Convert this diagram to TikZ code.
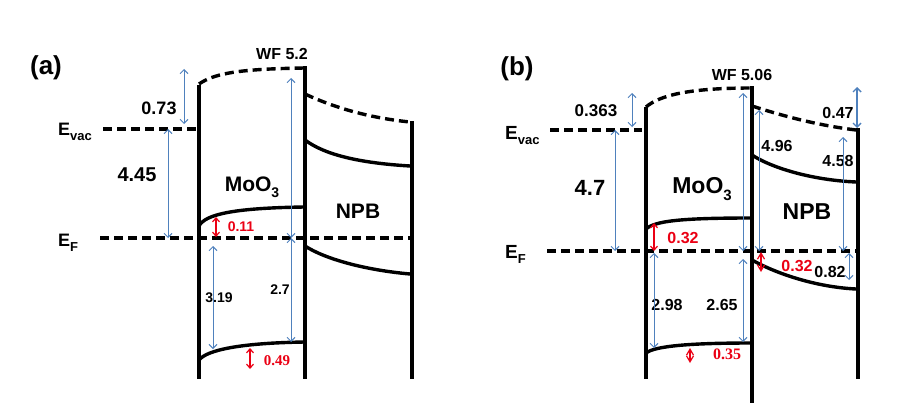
\documentclass[tikz,border=0pt]{standalone}
\usepackage{fontspec}
\setmainfont{Liberation Sans}
\newfontfamily\serifb{Liberation Serif}
\usetikzlibrary{arrows.meta}
\definecolor{blueC}{RGB}{79,129,189}
\definecolor{redC}{RGB}{235,0,20}
\begin{document}
\begin{tikzpicture}[x=1pt,y=-1pt,
  band/.style={line width=3.4pt},
  lvl/.style={line width=3.4pt, dash pattern=on 9pt off 5pt},
  barr/.style={draw=blueC, line width=1pt, {Straight Barb[length=4pt,width=8pt]}-{Straight Barb[length=4pt,width=8pt]}},
  rarr/.style={draw=redC, line width=1.2pt, {Straight Barb[length=4pt,width=7pt]}-{Straight Barb[length=4pt,width=7pt]}},
  rdia/.style={draw=redC, line width=1.2pt, {Straight Barb[length=6pt,width=7pt]}-{Straight Barb[length=6pt,width=7pt]}},
  txt/.style={inner sep=0pt, font=\bfseries\fontsize{#1}{#1}\selectfont},
  txt/.default=16,
  rtxt/.style={txt=#1, text=redC},
  rtxt/.default=15]
\useasboundingbox (0,0) rectangle (921,412);
\fill[white] (0,0) rectangle (921,412);

% ================= panel (a) =================
\draw[band] (199,85) -- (199,379);
\draw[band] (305,66.3) -- (305,379);
\draw[band] (412,121) -- (412,379);
\draw[lvl] (199,84) .. controls (215,73) and (240,69) .. (305,68);
\draw[lvl] (305,94) .. controls (335,108) and (370,118) .. (410,122);
\draw[band] (305,140) .. controls (325,155) and (360,163) .. (410,166);
\draw[band] (199,226) .. controls (205,215) and (230,208) .. (305,207);
\draw[band] (199,360) .. controls (207,350) and (240,343) .. (305,342);
\draw[band] (305,246) .. controls (325,259) and (365,270) .. (410,274);
\draw[lvl] (103,129) -- (197,129);
\draw[lvl] (100,238) -- (412,238);

\node[txt=26] (alab) at (46,68) {(a)};
\node[txt=16] (awf) at (282,54) {WF 5.2};
\node[txt=18,anchor=base west] (aevac) at (58,135) {E\raisebox{-0.3em}{\fontsize{13}{13}\selectfont vac}};
\node[txt=18,anchor=base west] (aef) at (58,246) {E\raisebox{-0.3em}{\fontsize{13}{13}\selectfont F}};
\node[txt=18] (a073) at (159,108) {0.73};
\node[txt=20] (a445) at (137,175) {4.45};
\node[txt=21] (amoo) at (252,187) {MoO\raisebox{-0.3em}{\fontsize{14}{14}\selectfont 3}};
\node[txt=21] (anpb) at (358,211) {NPB};
\node[rtxt=14] (a011) at (241,227) {0.11};
\node[txt=14] (a319) at (219,298) {3.19};
\node[txt=14] (a27) at (280,290) {2.7};
\node[rtxt=15,font=\serifb\bfseries\fontsize{15}{15}\selectfont] (a049) at (277,361) {0.49};

\coordinate (a1t) at (184,69);  \coordinate (a1b) at (184,124);
\coordinate (a2t) at (168,129); \coordinate (a2b) at (168,238);
\coordinate (a3t) at (291,78);  \coordinate (a3b) at (291,238);
\coordinate (a4t) at (291,238); \coordinate (a4b) at (291,342);
\coordinate (a5t) at (213,246); \coordinate (a5b) at (213,349);
\coordinate (a6t) at (216,217); \coordinate (a6b) at (216,237);
\coordinate (a7t) at (250,348); \coordinate (a7b) at (250,369);
\draw[barr] (a1t) -- (a1b);
\draw[barr] (a2t) -- (a2b);
\draw[barr] (a3t) -- (a3b);
\draw[barr] (a4t) -- (a4b);
\draw[barr] (a5t) -- (a5b);
\draw[rarr] (a6t) -- (a6b);
\draw[rarr] (a7t) -- (a7b);

% ================= panel (b) =================
\draw[band] (646,107) -- (646,379);
\draw[band] (752,86.3) -- (752,403);
\draw[band] (858,128) -- (858,379);
\draw[lvl] (646,107) .. controls (660,95) and (690,88) .. (752,88);
\draw[lvl] (752,106) .. controls (780,115) and (815,125) .. (856,130);
\draw[band] (752,155) .. controls (770,167) and (810,180) .. (856,182);
\draw[band] (646,229) .. controls (655,221) and (680,218) .. (752,218);
\draw[band] (646,353) .. controls (655,346) and (690,343) .. (752,343);
\draw[band] (752,260) .. controls (775,273) and (815,287) .. (856,289);
\draw[lvl] (550,130) -- (642,130);
\draw[lvl] (547,251) -- (858,251);

\node[txt=26] (blab) at (517,69) {(b)};
\node[txt=16] (bwf) at (742,75) {WF 5.06};
\node[txt=19,anchor=base west] (bevac) at (505,139) {E\raisebox{-0.3em}{\fontsize{13}{13}\selectfont vac}};
\node[txt=19,anchor=base west] (bef) at (505,258) {E\raisebox{-0.3em}{\fontsize{13}{13}\selectfont F}};
\node[txt=17] (b0363) at (596,111) {0.363};
\node[txt=22] (b47) at (590,188) {4.7};
\node[txt=23] (bmoo) at (702,189) {MoO\raisebox{-0.3em}{\fontsize{15}{15}\selectfont 3}};
\node[txt=23] (bnpb) at (807,212) {NPB};
\node[txt=16] (b496) at (777,146) {4.96};
\node[txt=16] (b458) at (838,161) {4.58};
\node[txt=16] (b047) at (838,113) {0.47};
\node[rtxt=16] (b032a) at (683,238) {0.32};
\node[txt=16] (b298) at (667,305) {2.98};
\node[txt=16] (b265) at (722,305) {2.65};
\node[rtxt=16,font=\serifb\bfseries\fontsize{16}{16}\selectfont] (b035) at (727,354) {0.35};
\node[rtxt=16] (b032b) at (797,266) {0.32};
\node[txt=16] (b082) at (830,272) {0.82};

\coordinate (b1t) at (632,93);  \coordinate (b1b) at (632,127);
\coordinate (b2t) at (615,130); \coordinate (b2b) at (615,251);
\coordinate (b3t) at (743,93);  \coordinate (b3b) at (743,251);
\coordinate (b4t) at (759,110); \coordinate (b4b) at (759,251);
\coordinate (b5t) at (843,137); \coordinate (b5b) at (843,251);
\coordinate (b6t) at (857,87);  \coordinate (b6b) at (857,128);
\coordinate (b7t) at (654,253); \coordinate (b7b) at (654,348);
\coordinate (b8t) at (743,259); \coordinate (b8b) at (743,342);
\coordinate (b9t) at (849,253); \coordinate (b9b) at (849,280);
\coordinate (b10t) at (654,223); \coordinate (b10b) at (654,251);
\coordinate (b11t) at (690,348); \coordinate (b11b) at (690,363);
\coordinate (b12t) at (761,252); \coordinate (b12b) at (761,272);
\draw[barr] (b1t) -- (b1b);
\draw[barr] (b2t) -- (b2b);
\draw[barr] (b3t) -- (b3b);
\draw[barr] (b4t) -- (b4b);
\draw[barr] (b5t) -- (b5b);
\draw[barr,line width=1.4pt] (b6t) -- (b6b);
\draw[barr] (b7t) -- (b7b);
\draw[barr] (b8t) -- (b8b);
\draw[barr] (b9t) -- (b9b);
\draw[rarr] (b10t) -- (b10b);
\draw[rdia] (b11t) -- (b11b);
\draw[rdia] (b12t) -- (b12b);
\end{tikzpicture}
\end{document}
